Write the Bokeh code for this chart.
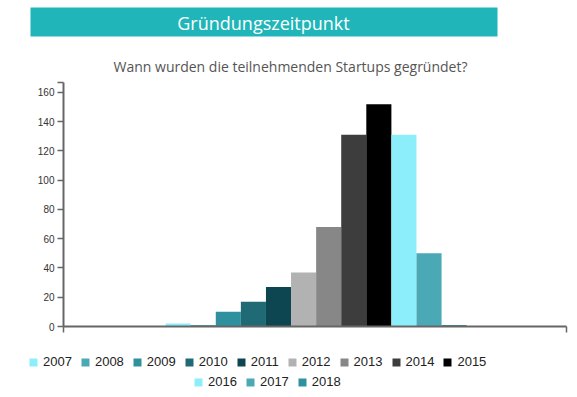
from bokeh.plotting import figure
from bokeh.models import (ColumnDataSource, Legend, LegendItem, Label, FixedTicker,
                          Range1d, BoxAnnotation)
from bokeh.layouts import column
from bokeh.embed import file_html
from bokeh.resources import INLINE

# ---- data ----
years = ["2007", "2008", "2009", "2010", "2011", "2012", "2013", "2014", "2015", "2016", "2017", "2018"]
counts = [2, 1, 10, 17, 27, 37, 68, 131, 152, 131, 50, 1]
colors = ["#8ceefb", "#4ba9b6", "#2f919e", "#1f6a75", "#0d4550", "#b2b2b2", "#878787",
          "#3d3d3d", "#000000", "#8ceefb", "#4ba9b6", "#2f919e"]
y_ticks = [0, 20, 40, 60, 80, 100, 120, 140, 160]
title_text = "Gründungszeitpunkt"
subtitle_text = "Wann wurden die teilnehmenden Startups gegründet?"

W = 575
x_start, x_end = -4.57, 15.48
y_end = 166.8

pos = list(range(len(years)))
src = ColumnDataSource(dict(x=pos, top=counts, color=colors, year=years))

# ---- header figure (banner + subtitle) ----
TOP_H = 76
top = figure(width=W, height=TOP_H, output_backend="svg", toolbar_location=None,
             x_range=Range1d(0, W), y_range=Range1d(TOP_H, 0),
             x_axis_type=None, y_axis_type=None, min_border=0, frame_align=False)
top.outline_line_color = None
top.xgrid.visible = False
top.ygrid.visible = False
top.add_layout(BoxAnnotation(left=30, right=497, top=7, bottom=36,
                             fill_color="#20b6b9", fill_alpha=1, line_color=None))
top.add_layout(Label(x=263, y=22, text=title_text, text_align="center",
                     text_baseline="middle", text_font="Open Sans",
                     text_font_size="18px", text_color="white"))
top.add_layout(Label(x=290, y=66, text=subtitle_text, text_align="center",
                     text_baseline="middle", text_font="Open Sans",
                     text_font_size="14px", text_color="#555555"))

# ---- main chart ----
p = figure(width=W, height=264, output_backend="svg", toolbar_location=None,
           x_range=Range1d(x_start, x_end), y_range=Range1d(0, y_end),
           min_border_left=63, min_border_right=W - 566, min_border_top=6,
           min_border_bottom=14, frame_align=False)
p.outline_line_color = None
p.xgrid.visible = False
p.ygrid.visible = False

r = p.vbar(x="x", top="top", width=1, fill_color="color", line_color=None, source=src)

axis_col = "#666666"
ya = p.yaxis[0]
ya.ticker = FixedTicker(ticks=y_ticks + [y_end])
ya.major_label_overrides = {y_end: ""}
ya.axis_line_color = axis_col
ya.axis_line_width = 2
ya.major_tick_line_color = axis_col
ya.major_tick_line_width = 1.5
ya.major_tick_out = 6
ya.major_tick_in = 0
ya.minor_tick_line_color = None
ya.major_label_text_font = "Liberation Sans"
ya.major_label_text_font_size = "10px"
ya.major_label_text_color = "#333333"
ya.major_label_standoff = 3

xa = p.xaxis[0]
xa.ticker = FixedTicker(ticks=[x_start, x_end])
xa.major_label_overrides = {x_start: "", x_end: ""}
xa.axis_line_color = axis_col
xa.axis_line_width = 2
xa.major_tick_line_color = axis_col
xa.major_tick_line_width = 1.5
xa.major_tick_out = 6
xa.major_tick_in = 0
xa.minor_tick_line_color = None
xa.major_label_text_font_size = "1px"

# ---- legend figure ----
BOT_H = 55
bot = figure(width=W, height=BOT_H, output_backend="svg", toolbar_location=None,
             x_range=Range1d(0, 1), y_range=Range1d(1000, 1001),
             x_axis_type=None, y_axis_type=None, min_border=0, frame_align=False)
bot.outline_line_color = None
bot.xgrid.visible = False
bot.ygrid.visible = False
r2 = bot.vbar(x="x", top="top", width=1, fill_color="color", line_color=None, source=src)


def make_legend(idx, loc):
    items = [LegendItem(label=years[i], renderers=[r2], index=i) for i in idx]
    return Legend(items=items, orientation="horizontal", location=loc,
                  border_line_color=None, background_fill_alpha=0,
                  label_text_font="Liberation Sans", label_text_font_size="13px",
                  label_text_color="#222222", glyph_width=10, glyph_height=10,
                  label_standoff=5, spacing=8, padding=0, margin=0, label_height=14)


bot.add_layout(make_legend(range(0, 9), (28, 26)))
bot.add_layout(make_legend(range(9, 12), (193, 6)))

layout = column(top, p, bot, spacing=0)
open("out.html", "w").write(file_html(layout, INLINE))
